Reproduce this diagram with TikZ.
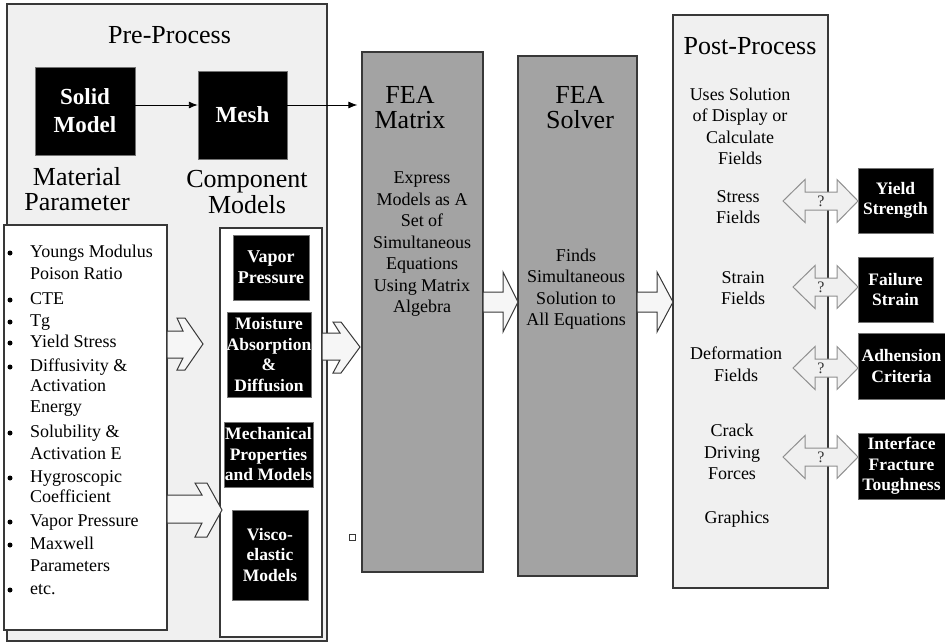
\documentclass[tikz,border=0pt]{standalone}
\usepackage{fontspec}
\setmainfont{Liberation Serif}
\usetikzlibrary{arrows.meta}

\definecolor{panelfill}{HTML}{F0F0F0}
\definecolor{feafill}{HTML}{A3A3A3}
\definecolor{edge}{HTML}{383838}
\definecolor{dbledge}{HTML}{8F8F8F}
\definecolor{arrowfill}{HTML}{F6F6F6}

\newcommand{\fTitle}{\fontsize{26}{25.5}\selectfont}
\newcommand{\fBody}{\fontsize{18}{21.5}\selectfont}
\newcommand{\fBox}{\fontsize{17.5}{20.5}\selectfont\bfseries}
\newcommand{\fBig}{\fontsize{23}{28}\selectfont\bfseries}

\begin{document}
\begin{tikzpicture}[x=1pt,y=-1pt,
  panel/.style={draw=edge, line width=1.3pt, fill=panelfill, inner sep=0pt},
  whitebox/.style={draw=edge, line width=1.1pt, fill=white, inner sep=0pt},
  feabox/.style={draw=edge, line width=1.3pt, fill=feafill, inner sep=0pt},
  blackbox/.style={draw=black!55, fill=black, text=white, inner sep=0pt, align=center, font=\fBox},
  plaintext/.style={inner sep=0pt, align=center, font=\fBody},
  thinarrow/.style={draw=black, line width=0.9pt, -{Latex[length=9pt,width=7pt]}},
  blockarrow/.style={draw=edge, line width=1pt, fill=arrowfill, line join=miter},
  dblarrow/.style={draw=dbledge, line width=1pt, fill=panelfill, line join=miter},
  bulletdot/.style={circle, fill=black, inner sep=0pt, minimum size=5pt}]
\useasboundingbox (0,0) rectangle (945,643);

% Panels
\node[panel, minimum width=320, minimum height=637] (pre) at (167,322.5) {};
\node[whitebox, minimum width=163, minimum height=405] (list) at (85.5,427.5) {};
\node[whitebox, minimum width=102, minimum height=409] (comp) at (271,432.5) {};
\node[feabox, minimum width=121, minimum height=520] (matrix) at (422.5,312) {};
\node[feabox, minimum width=119, minimum height=520] (solver) at (577.5,316) {};
\node[panel, minimum width=155, minimum height=573] (post) at (750.5,301.5) {};

% Pre-Process
\node[plaintext, font=\fTitle, anchor=base] (pretitle) at (169.5,43) {Pre-Process};
\node[blackbox, font=\fBig, minimum width=100, minimum height=88] (solid) at (85,111) {Solid\\Model};
\node[blackbox, font=\fBig, minimum width=89, minimum height=88] (mesh) at (242.5,115) {Mesh};
\node[plaintext, font=\fTitle] (matparam) at (77,189) {Material\\Parameter};
\node[plaintext, font=\fTitle] (compmodels) at (247,192) {Component\\Models};

\coordinate (row) at (0,105);
\draw[thinarrow] (solid.east |- row) -- (mesh.west |- row);
\draw[thinarrow, shorten >=4pt] (mesh.east |- row) -- (matrix.west |- row);

% Material list
\foreach \y/\t [count=\i] in {257/Youngs Modulus, 279/Poison Ratio, 304/CTE, 326/Tg,
    347/Yield Stress, 371/Diffusivity \&, 391/Activation, 412/Energy, 437/Solubility \&,
    459/Activation E, 482/Hygroscopic, 502/Coefficient, 526/Vapor Pressure, 549/Maxwell,
    571/Parameters, 594/etc.}
  \node[plaintext, anchor=base west] (item\i) at (30,\y) {\t};
\foreach \y [count=\i] in {257,304,326,347,371,437,482,526,549,594}
  \node[bulletdot] (dot\i) at (10,\y-4) {};

% Component models
\node[blackbox, font=\fontsize{18}{21}\selectfont\bfseries, minimum width=76, minimum height=65] (vapor) at (271,267.5) {Vapor\\Pressure};
\node[blackbox, minimum width=84, minimum height=85] (moist) at (269,354.5) {Moisture\\Absorption\\\&\\Diffusion};
\node[blackbox, minimum width=89, minimum height=65] (mech) at (268.5,454.5) {Mechanical\\Properties\\and Models};
\node[blackbox, minimum width=76, minimum height=90] (visco) at (270,555) {Visco-\\elastic\\Models};

% FEA
\node[plaintext, font=\fTitle] (matrixtitle) at (410,107.5) {FEA\\Matrix};
\node[plaintext] (matrixtext) at (422,244.5) {Express\\Models as A\\Set of\\Simultaneous\\Equations\\Using Matrix\\Algebra};
\node[plaintext, font=\fTitle] (solvertitle) at (580,107.5) {FEA\\Solver};
\node[plaintext] (solvertext) at (576,289) {Finds\\Simultaneous\\Solution to\\All Equations};
\node[draw=edge, line width=0.8pt, minimum size=6, inner sep=0pt] (spot) at (352,537) {};

% Post-Process
\node[plaintext, font=\fTitle, anchor=base] (posttitle) at (750,54) {Post-Process};
\node[plaintext] (uses) at (740,126.5) {Uses Solution\\of Display or\\Calculate\\Fields};
\node[plaintext] (stress) at (738,207) {Stress\\Fields};
\node[plaintext] (strain) at (743,288) {Strain\\Fields};
\node[plaintext] (deform) at (736,364) {Deformation\\Fields};
\node[plaintext] (crack) at (732,452) {Crack\\Driving\\Forces};
\node[plaintext] (graphics) at (737,519) {Graphics};

% Criteria
\node[blackbox, minimum width=75, minimum height=65] (yield) at (895.5,200.5) {Yield\\Strength};
\node[blackbox, minimum width=75, minimum height=65] (failure) at (895.5,289.5) {Failure\\Strain};
\node[blackbox, minimum width=87, minimum height=66] (adhesion) at (901.5,366) {Adhension\\Criteria};
\node[blackbox, minimum width=87, minimum height=66] (tough) at (901.5,466) {Interface\\Fracture\\Toughness};

% Block arrows
\draw[blockarrow] (167,331) -- (183,331) -- (177,318) -- (185,318) -- (203,344) -- (185,370) -- (177,370) -- (183,358) -- (167,358) -- cycle;
\draw[blockarrow] (167,495) -- (202,495) -- (195,483) -- (207,483) -- (222,510) -- (207,537) -- (195,537) -- (202,523) -- (167,523) -- cycle;
\draw[blockarrow] (322,333) -- (340,333) -- (333,322) -- (341,322) -- (360,347) -- (341,373) -- (333,373) -- (340,360) -- (322,360) -- cycle;
\draw[blockarrow] (483,292) -- (503,292) -- (503,272) -- (518,302) -- (503,332) -- (503,312) -- (483,312) -- cycle;
\draw[blockarrow] (637,292) -- (657,292) -- (657,272) -- (673,302) -- (657,332) -- (657,312) -- (637,312) -- cycle;

% Double arrows
\foreach \y/\l/\h [count=\i] in {201/783/805, 287/793/815, 368/793/815, 457/783/805} {
  \draw[dblarrow] (\l,\y) -- (\h,\y-21.5) -- (\h,\y-9) -- (837,\y-9) -- (837,\y-21.5) -- (858,\y)
    -- (837,\y+21.5) -- (837,\y+9) -- (\h,\y+9) -- (\h,\y+21.5) -- cycle;
  \node[inner sep=0pt, text=black!80, font=\fontsize{16}{16}\selectfont] (q\i) at (821,\y) {?};
}

\end{tikzpicture}
\end{document}
